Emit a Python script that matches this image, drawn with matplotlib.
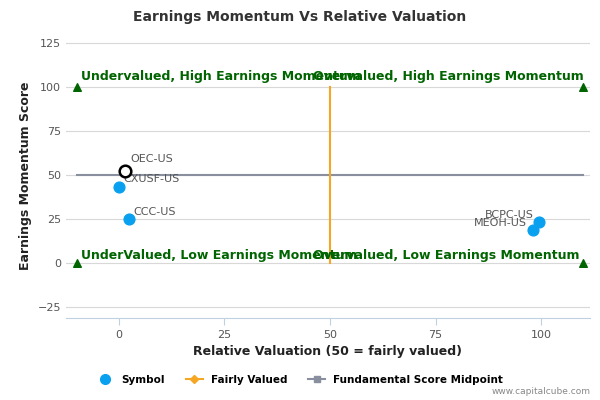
import matplotlib
matplotlib.use("Agg")
import matplotlib.pyplot as plt
from matplotlib.lines import Line2D

symbols = ["OEC-US", "CXUSF-US", "CCC-US", "BCPC-US", "MEOH-US"]
xval = [1.5, 0.0, 2.5, 99.5, 98.0]
yval = [52.5, 43.5, 25.0, 23.5, 19.0]
fair_x = [50, 50]
fair_y = [0, 100]
mid_x = [-10, 110]
mid_y = [50, 50]
corner_x = [-10, 110, -10, 110]
corner_y = [100, 100, 0, 0]
quad_labels = ["Undervalued, High Earnings Momentum", "Overvalued, High Earnings Momentum",
               "UnderValued, Low Earnings Momentum", "Overvalued, Low Earnings Momentum"]

fig = plt.figure(figsize=(6, 4), dpi=100)
ax = fig.add_axes([0.11, 0.205, 0.873, 0.71])
ax.set_xlim(-12.5, 111.5)
ax.set_ylim(-31, 130)
ax.set_xticks([0, 25, 50, 75, 100])
ax.set_yticks([-25, 0, 25, 50, 75, 100, 125])
ax.yaxis.grid(True, color="#d8d8d8", lw=0.8)
ax.set_axisbelow(True)
for s in ["top", "right", "left"]:
    ax.spines[s].set_visible(False)
ax.spines["bottom"].set_color("#c0d0e0")
ax.tick_params(axis="both", length=0, labelsize=8, colors="#555555")
ax.tick_params(axis="x", length=5, color="#c0d0e0")

ax.plot(mid_x, mid_y, color="#8a8fa0", lw=1.5)
ax.plot(fair_x, fair_y, color="#f5a623", lw=1.5)
ax.scatter(corner_x, corner_y, marker="^", color="#006400", s=30, zorder=3)

for i, (s, x, y) in enumerate(zip(symbols, xval, yval)):
    if s == "OEC-US":
        ax.scatter(x, y, s=70, facecolor="white", edgecolor="black", lw=1.8, zorder=4)
        ax.annotate(s, (x, y), xytext=(4, 6), textcoords="offset points", fontsize=8, color="#555555")
    else:
        ax.scatter(x, y, s=60, color="#0aa0f0", zorder=4)
        if x > 50:
            ax.annotate(s, (x, y), xytext=(-4, 3), textcoords="offset points", fontsize=8,
                        color="#555555", ha="right")
        else:
            ax.annotate(s, (x, y), xytext=(3, 3), textcoords="offset points", fontsize=8, color="#555555")

qfont = dict(fontsize=9, color="#006400", fontweight="bold")
ax.text(-9, 104, quad_labels[0], **qfont)
ax.text(46, 104, quad_labels[1], **qfont)
ax.text(-9, 2.5, quad_labels[2], **qfont)
ax.text(46, 2.5, quad_labels[3], **qfont)

ax.set_xlabel("Relative Valuation (50 = fairly valued)", fontsize=9, fontweight="bold", color="#222222")
ax.set_ylabel("Earnings Momentum Score", fontsize=9, fontweight="bold", color="#222222")
fig.suptitle("Earnings Momentum Vs Relative Valuation", x=0.5, y=0.975, fontsize=10,
             fontweight="bold", color="#333333")

handles = [Line2D([], [], marker="o", ls="", color="#0aa0f0", markersize=7),
           Line2D([], [], marker="D", color="#f5a623", markersize=4),
           Line2D([], [], marker="s", color="#8a8fa0", markersize=5)]
fig.legend(handles, ["Symbol", "Fairly Valued", "Fundamental Score Midpoint"], loc="lower center",
           bbox_to_anchor=(0.5, 0.015), ncol=3, frameon=False, prop=dict(size=7.5, weight="bold"),
           handlelength=1.6, columnspacing=2)
fig.text(0.985, 0.015, "www.capitalcube.com", ha="right", fontsize=6.5, color="#888888")
fig.savefig("out.png", dpi=100)
